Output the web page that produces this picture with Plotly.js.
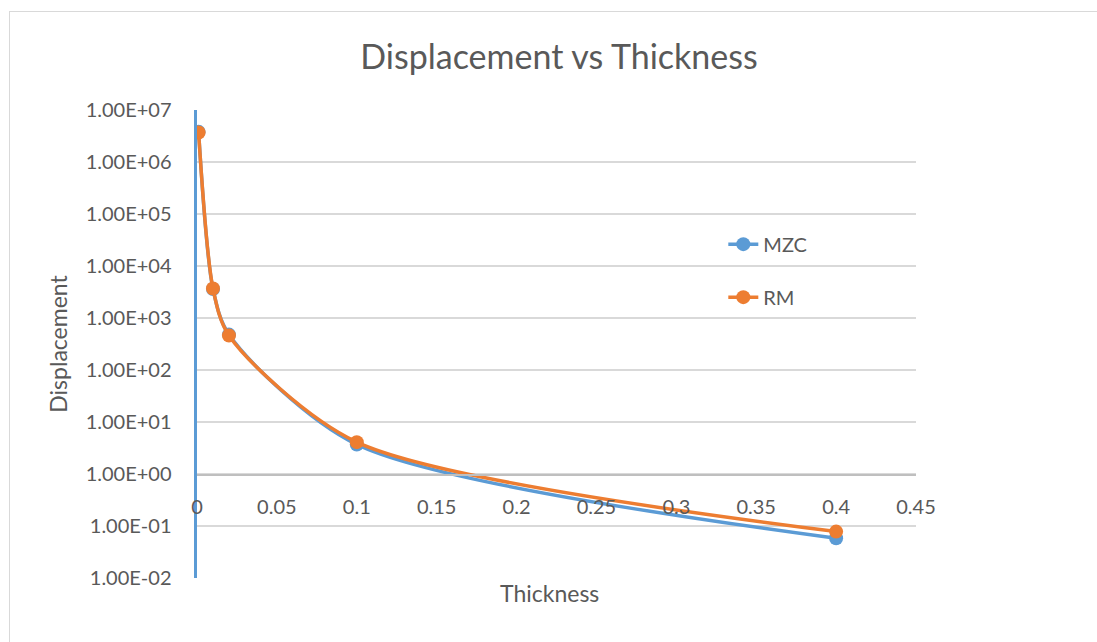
<!DOCTYPE html>
<html><head><meta charset="utf-8">
<script src="https://cdn.plot.ly/plotly-3.0.1.min.js"></script>
<style>
html,body{margin:0;padding:0;background:#fff;}
#chart{width:1097px;height:642px;position:relative;}
#frame{position:absolute;left:9px;top:11px;width:1200px;height:700px;border:1.5px solid #D9D9D9;pointer-events:none;}
</style></head>
<body>
<div id="chart"></div>
<div id="frame"></div>
<script>
const thickness = [0.001, 0.01, 0.02, 0.1, 0.4];
const mzc = [3.8e6, 3.6e3, 480, 3.7, 0.058];
const rm = [3.7e6, 3.7e3, 460, 4.1, 0.078];
const yTickVals = [1e-2, 1e-1, 1, 1e1, 1e2, 1e3, 1e4, 1e5, 1e6, 1e7];
const yTickText = ["1.00E-02","1.00E-01","1.00E+00","1.00E+01","1.00E+02","1.00E+03","1.00E+04","1.00E+05","1.00E+06","1.00E+07"];
const xTickVals = [0, 0.05, 0.1, 0.15, 0.2, 0.25, 0.3, 0.35, 0.4, 0.45];
const xTickText = ["0","0.05","0.1","0.15","0.2","0.25","0.3","0.35","0.4","0.45"];

const FONT = "Lato, 'Open Sans', sans-serif";
const traces = [
  {x: thickness, y: mzc, name: "MZC", mode: "lines+markers", legendgroup: "a",
   line: {color: "#5B9BD5", width: 3.5, shape: "spline", smoothing: 0.8},
   marker: {color: "#5B9BD5", size: 14}},
  {x: thickness, y: rm, name: "RM", mode: "lines+markers", legendgroup: "b",
   line: {color: "#ED7D31", width: 3.5, shape: "spline", smoothing: 0.8},
   marker: {color: "#ED7D31", size: 14}}
];
const layout = {
  width: 1097, height: 642,
  margin: {l: 197, r: 181, t: 110, b: 64, pad: 0},
  paper_bgcolor: "#fff", plot_bgcolor: "#fff",
  font: {family: FONT, color: "#595959", size: 20},
  title: {text: "Displacement vs Thickness", font: {family: FONT, size: 34, color: "#595959"},
          x: 0.5096, xref: "container", y: 0.911, yref: "container", yanchor: "middle", pad: {t:0}},
  xaxis: {range: [0, 0.45], tickvals: xTickVals, ticktext: xTickText,
          anchor: "free", position: 0.2222, showline: true, linecolor: "#BFBFBF", linewidth: 1.5,
          showgrid: false, zeroline: false, ticks: "", ticklabelstandoff: 14,
          tickfont: {size: 20, color: "#595959"}},
  yaxis: {type: "log", range: [-2, 7], tickvals: yTickVals, ticktext: yTickText,
          showgrid: true, gridcolor: "#D9D9D9", gridwidth: 1.5, zeroline: false,
          showline: true, linecolor: "#5B9BD5", linewidth: 3.5, ticks: "",
          ticklabelstandoff: 18, tickfont: {size: 20, color: "#595959"},
          title: {text: "Displacement", font: {size: 23, color: "#595959"}, standoff: 12}},
  showlegend: true,
  legend: {x: 0.732, y: 0.755, xanchor: "left", yanchor: "top", bgcolor: "rgba(0,0,0,0)",
           font: {size: 20, color: "#595959"}, tracegroupgap: 24, traceorder: "grouped"},
  annotations: [{text: "Thickness", xref: "paper", yref: "paper", x: 0.49, y: -0.031,
                 xanchor: "center", yanchor: "middle", showarrow: false,
                 font: {size: 23, color: "#595959"}}]
};
Plotly.newPlot("chart", traces, layout, {displayModeBar: false, staticPlot: true});
</script>
</body></html>
